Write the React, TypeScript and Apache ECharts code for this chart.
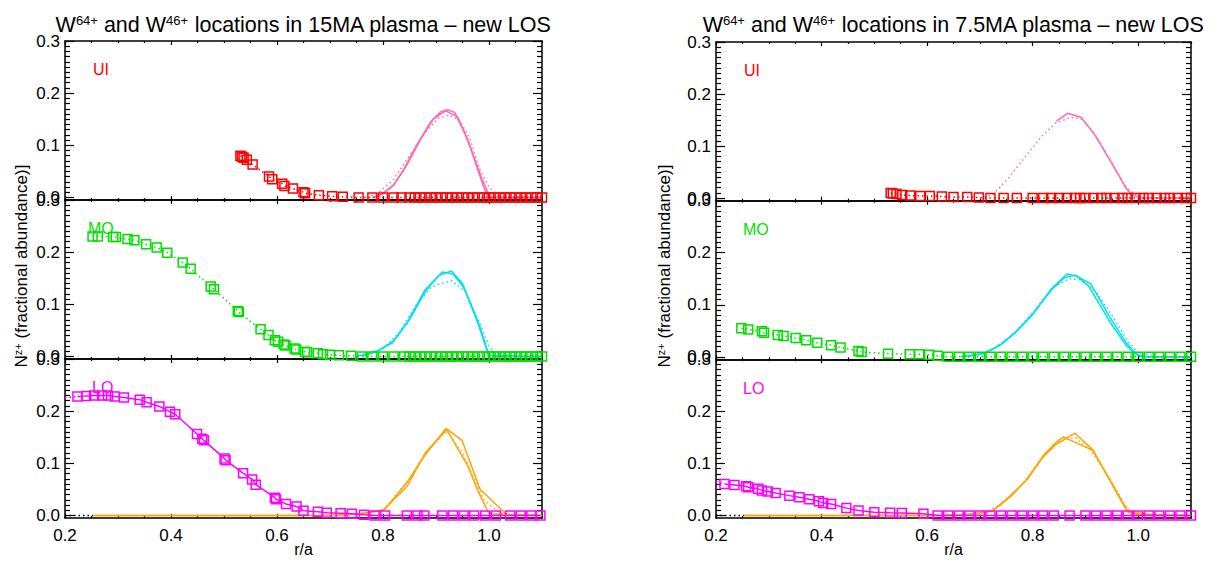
import React, { useEffect, useRef } from "react";
import * as echarts from "echarts";

type P = [number, number][];

// ---------- data (r/a, fractional abundance) ----------
// 15MA plasma
const ui15Squares: P = [[0.531,0.080],[0.534,0.078],[0.537,0.076],[0.543,0.072],[0.554,0.063],[0.585,0.040],[0.591,0.035],[0.610,0.026],[0.614,0.022],[0.630,0.017],[0.650,0.010],[0.653,0.008],[0.679,0.004],[0.704,0.002],[0.724,0.001],[0.754,0],[0.78,0],[0.80,0],[0.82,0],[0.835,0],[0.85,0],[0.86,0],[0.87,0],[0.88,0],[0.89,0],[0.90,0],[0.91,0],[0.92,0],[0.93,0],[0.94,0],[0.95,0],[0.96,0],[0.97,0],[0.98,0],[0.99,0],[1.0,0],[1.01,0],[1.02,0],[1.03,0],[1.04,0],[1.05,0],[1.06,0],[1.07,0],[1.08,0],[1.09,0],[1.10,0]];
const ui15SolidA: P = [[0.78,0],[0.80,0.008],[0.82,0.024],[0.84,0.055],[0.865,0.103],[0.89,0.145],[0.91,0.165],[0.922,0.168],[0.935,0.163],[0.952,0.129],[0.965,0.095],[0.979,0.052],[0.99,0.02],[0.996,0.006],[1.0,0],[1.1,0]];
const ui15SolidB: P = [[0.785,0],[0.80,0.007],[0.82,0.023],[0.845,0.062],[0.87,0.11],[0.895,0.15],[0.918,0.166],[0.94,0.155],[0.96,0.11],[0.985,0.04],[1.002,0],[1.1,0]];
const ui15Dotted: P = [[0.77,0],[0.79,0.008],[0.818,0.032],[0.85,0.08],[0.88,0.125],[0.905,0.152],[0.925,0.158],[0.945,0.148],[0.965,0.11],[0.982,0.055],[1.0,0.02],[1.02,0],[1.1,0]];

const mo15Squares: P = [[0.252,0.230],[0.262,0.230],[0.291,0.229],[0.296,0.229],[0.318,0.225],[0.331,0.223],[0.353,0.215],[0.373,0.209],[0.393,0.199],[0.422,0.180],[0.437,0.168],[0.475,0.134],[0.481,0.129],[0.526,0.087],[0.528,0.085],[0.569,0.052],[0.584,0.041],[0.596,0.031],[0.602,0.028],[0.613,0.023],[0.616,0.021],[0.633,0.015],[0.636,0.013],[0.653,0.009],[0.657,0.008],[0.677,0.006],[0.687,0.004],[0.700,0.003],[0.717,0.002],[0.74,0.001],[0.76,0],[0.78,0],[0.80,0],[0.82,0],[0.84,0],[0.85,0],[0.86,0],[0.87,0],[0.88,0],[0.89,0],[0.90,0],[0.91,0],[0.92,0],[0.93,0],[0.94,0],[0.95,0],[0.96,0],[0.97,0],[0.98,0],[0.99,0],[1.0,0],[1.01,0],[1.02,0],[1.03,0],[1.04,0],[1.05,0],[1.06,0],[1.07,0],[1.08,0],[1.09,0],[1.1,0]];
const mo15SolidA: P = [[0.75,0],[0.79,0.011],[0.818,0.026],[0.845,0.064],[0.879,0.127],[0.912,0.162],[0.932,0.158],[0.952,0.133],[0.979,0.064],[0.999,0.003],[1.01,0],[1.1,0]];
const mo15SolidB: P = [[0.76,0],[0.79,0.01],[0.82,0.03],[0.85,0.07],[0.88,0.125],[0.905,0.155],[0.929,0.164],[0.95,0.14],[0.98,0.065],[1.0,0.002],[1.1,0]];
const mo15Dotted: P = [[0.76,0],[0.80,0.015],[0.83,0.045],[0.86,0.095],[0.89,0.132],[0.91,0.14],[0.93,0.145],[0.955,0.125],[0.98,0.07],[1.0,0.02],[1.02,0],[1.1,0]];

const lo15Squares: P = [[0.2235,0.228],[0.240,0.229],[0.255,0.230],[0.270,0.230],[0.281,0.230],[0.294,0.228],[0.311,0.226],[0.341,0.222],[0.354,0.217],[0.378,0.209],[0.398,0.199],[0.408,0.194],[0.449,0.156],[0.459,0.147],[0.462,0.144],[0.501,0.109],[0.503,0.106],[0.536,0.081],[0.553,0.069],[0.560,0.059],[0.596,0.034],[0.598,0.031],[0.617,0.022],[0.637,0.017],[0.650,0.009],[0.677,0.007],[0.694,0.005],[0.720,0.004],[0.741,0.003],[0.764,0.001],[0.784,0],[0.804,0],[0.845,0],[0.865,0],[0.878,0],[0.912,0],[0.932,0],[0.952,0],[0.972,0],[0.993,0],[1.013,0],[1.040,0],[1.060,0],[1.080,0],[1.097,0]];
const lo15Lead: P = [[0.2,0.226],[0.2235,0.228]];
const lo15OrangeA: P = [[0.253,0],[0.70,0],[0.751,0.002],[0.804,0.012],[0.845,0.063],[0.878,0.114],[0.919,0.167],[0.949,0.144],[0.983,0.050],[1.033,0.002],[1.1,0]];
const lo15OrangeB: P = [[0.253,0],[0.70,0],[0.76,0.003],[0.80,0.01],[0.845,0.055],[0.88,0.12],[0.92,0.165],[0.96,0.095],[0.98,0.045],[1.0,0.003],[1.1,0]];
const lo15OrangeDotted: P = [[0.75,0],[0.80,0.01],[0.85,0.07],[0.88,0.12],[0.92,0.162],[0.95,0.12],[0.97,0.075],[0.99,0.03],[1.02,0.005],[1.05,0],[1.1,0]];
const zeroLead: P = [[0.2,0],[0.253,0]];

// 7.5MA plasma
const ui75Squares: P = [[0.531,0.010],[0.535,0.009],[0.542,0.008],[0.553,0.006],[0.568,0.005],[0.587,0.004],[0.605,0.004],[0.628,0.003],[0.65,0.002],[0.676,0.002],[0.698,0.001],[0.72,0],[0.745,0],[0.77,0],[0.80,0],[0.82,0],[0.835,0],[0.85,0],[0.865,0],[0.88,0],[0.89,0],[0.90,0],[0.915,0],[0.93,0],[0.94,0],[0.955,0],[0.97,0],[0.98,0],[0.995,0],[1.01,0],[1.02,0],[1.035,0],[1.05,0],[1.06,0],[1.075,0],[1.09,0],[1.1,0]];
const ui75Solid: P = [[0.845,0.148],[0.866,0.163],[0.892,0.155],[0.918,0.121],[0.948,0.070],[0.977,0.019],[0.988,0.006],[1.007,0],[1.1,0]];
const ui75Dotted: P = [[0.70,0],[0.724,0.006],[0.754,0.038],[0.784,0.077],[0.814,0.115],[0.843,0.144],[0.873,0.155],[0.895,0.151],[0.918,0.122],[0.948,0.072],[0.977,0.02],[1.0,0.003],[1.02,0],[1.1,0]];

const mo75Squares: P = [[0.248,0.055],[0.261,0.0525],[0.287,0.049],[0.291,0.046],[0.317,0.042],[0.328,0.040],[0.351,0.036],[0.371,0.032],[0.392,0.027],[0.418,0.022],[0.436,0.018],[0.470,0.011],[0.476,0.009],[0.526,0.006],[0.567,0.005],[0.585,0.005],[0.604,0.004],[0.62,0.002],[0.64,0],[0.66,0],[0.68,0],[0.70,0],[0.72,0],[0.74,0],[0.76,0],[0.78,0],[0.80,0],[0.82,0],[0.84,0],[0.86,0],[0.88,0],[0.90,0],[0.92,0],[0.94,0],[0.96,0],[0.98,0],[1.0,0],[1.02,0],[1.04,0],[1.06,0],[1.08,0],[1.1,0]];
const mo75SolidA: P = [[0.664,0],[0.705,0.006],[0.738,0.022],[0.768,0.047],[0.798,0.079],[0.835,0.130],[0.865,0.159],[0.884,0.155],[0.906,0.136],[0.947,0.066],[0.977,0.022],[0.999,0.003],[1.01,0],[1.1,0]];
const mo75SolidB: P = [[0.67,0],[0.71,0.007],[0.74,0.024],[0.77,0.05],[0.80,0.082],[0.835,0.128],[0.86,0.152],[0.88,0.157],[0.91,0.14],[0.945,0.078],[0.975,0.03],[0.995,0.006],[1.01,0],[1.1,0]];
const mo75Dotted: P = [[0.68,0],[0.72,0.012],[0.76,0.04],[0.80,0.085],[0.84,0.135],[0.87,0.150],[0.89,0.148],[0.92,0.125],[0.95,0.08],[0.98,0.03],[1.0,0.008],[1.03,0],[1.1,0]];

const lo75Squares: P = [[0.216,0.0605],[0.235,0.0586],[0.257,0.056],[0.261,0.054],[0.280,0.051],[0.287,0.048],[0.298,0.046],[0.313,0.043],[0.339,0.038],[0.358,0.035],[0.377,0.031],[0.395,0.027],[0.403,0.024],[0.418,0.022],[0.447,0.014],[0.470,0.0096],[0.500,0.006],[0.530,0.005],[0.552,0.0045],[0.593,0.003],[0.62,0],[0.64,0],[0.66,0],[0.68,0],[0.70,0],[0.72,0],[0.74,0],[0.76,0],[0.78,0],[0.80,0],[0.82,0],[0.84,0],[0.87,0],[0.90,0],[0.92,0],[0.94,0],[0.96,0],[0.98,0],[1.0,0],[1.02,0],[1.04,0],[1.06,0],[1.08,0],[1.1,0]];
const lo75Lead: P = [[0.2,0.065],[0.216,0.0605]];
const lo75OrangeA: P = [[0.253,0],[0.62,0],[0.68,0.002],[0.723,0.008],[0.76,0.038],[0.79,0.070],[0.82,0.115],[0.842,0.138],[0.858,0.151],[0.914,0.125],[0.98,0.008],[1.036,0],[1.1,0]];
const lo75OrangeB: P = [[0.253,0],[0.65,0],[0.70,0.004],[0.725,0.009],[0.76,0.04],[0.79,0.07],[0.82,0.113],[0.842,0.135],[0.88,0.158],[0.914,0.126],[0.98,0.006],[1.0,0.002],[1.1,0]];
const lo75OrangeDotted: P = [[0.70,0.003],[0.74,0.02],[0.78,0.06],[0.82,0.112],[0.85,0.142],[0.88,0.15],[0.91,0.125],[0.95,0.065],[0.98,0.012],[1.02,0],[1.1,0]];

// ticks
const xMajor = [0.2, 0.4, 0.6, 0.8, 1.0];
const xMinor = [0.25, 0.3, 0.35, 0.45, 0.5, 0.55, 0.65, 0.7, 0.75, 0.85, 0.9, 0.95, 1.05, 1.1];
const yMajor = [0, 0.1, 0.2, 0.3];
const yMinor = Array.from({ length: 30 }, (_, i) => i / 100).filter((v) => Math.round(v * 100) % 10 !== 0);

const panelNames = ["UI", "MO", "LO"];
const titles = ["15MA", "7.5MA"];

const C = {
  red: "#ff0000",
  pink: "#ff69b4",
  green: "#00e000",
  cyan: "#00e0f0",
  magenta: "#ff00ff",
  orange: "#ffa500",
};
const FONT = "'Liberation Sans', Arial, Helvetica, sans-serif";

export default function App() {
  const ref = useRef<HTMLDivElement>(null);
  useEffect(() => {
    if (!ref.current) return;
    const chart = echarts.init(ref.current, undefined, { renderer: "svg" });

    const cols = [
      { left: 65, width: 477, tops: [41, 200, 359], h: 159 },
      { left: 716, width: 475, tops: [42, 200.7, 359.3], h: 158.7 },
    ];
    const grids: any[] = [];
    cols.forEach((c) => c.tops.forEach((t) => grids.push({ left: c.left, top: t, width: c.width, height: c.h })));

    const xAxes: any[] = [];
    const yAxes: any[] = [];
    const black = "#000";
    grids.forEach((_, g) => {
      const bottomPanel = g % 3 === 2;
      const xb = { type: "value", gridIndex: g, min: 0.2, max: 1.1, splitLine: { show: false } };
      xAxes.push({
        ...xb, position: "bottom",
        axisLine: { show: true, onZero: false, lineStyle: { color: black, width: 1.5 } },
        axisTick: { show: true, inside: true, length: 4, customValues: xMajor, lineStyle: { color: black, width: 1.2 } },
        axisLabel: { show: bottomPanel, customValues: xMajor, formatter: (v: number) => v.toFixed(1), fontSize: 17, color: black, margin: 9, fontFamily: FONT },
      });
      xAxes.push({
        ...xb, position: "bottom", axisLine: { show: false, onZero: false },
        axisTick: { show: true, inside: true, length: 2, customValues: xMinor, lineStyle: { color: black, width: 1.2 } },
        axisLabel: { show: false },
      });
      xAxes.push({
        ...xb, position: "top",
        axisLine: { show: true, onZero: false, lineStyle: { color: black, width: 1.5 } },
        axisTick: { show: true, inside: true, length: 4, customValues: xMajor, lineStyle: { color: black, width: 1.2 } },
        axisLabel: { show: false },
      });
      xAxes.push({
        ...xb, position: "top", axisLine: { show: false, onZero: false },
        axisTick: { show: true, inside: true, length: 2, customValues: xMinor, lineStyle: { color: black, width: 1.2 } },
        axisLabel: { show: false },
      });
      const yb = { type: "value", gridIndex: g, min: -0.005, max: 0.3, splitLine: { show: false } };
      yAxes.push({
        ...yb, position: "left",
        axisLine: { show: true, onZero: false, lineStyle: { color: black, width: 1.5 } },
        axisTick: { show: true, inside: true, length: 9, customValues: yMajor, lineStyle: { color: black, width: 1.2 } },
        axisLabel: { show: true, customValues: yMajor, formatter: (v: number) => v.toFixed(1), fontSize: 17, color: black, margin: 5, fontFamily: FONT },
      });
      yAxes.push({
        ...yb, position: "left", axisLine: { show: false, onZero: false },
        axisTick: { show: true, inside: true, length: 5, customValues: yMinor, lineStyle: { color: black, width: 1.2 } },
        axisLabel: { show: false },
      });
      yAxes.push({
        ...yb, position: "right",
        axisLine: { show: true, onZero: false, lineStyle: { color: black, width: 1.5 } },
        axisTick: { show: true, inside: true, length: 9, customValues: yMajor, lineStyle: { color: black, width: 1.2 } },
        axisLabel: { show: false },
      });
      yAxes.push({
        ...yb, position: "right", axisLine: { show: false, onZero: false },
        axisTick: { show: true, inside: true, length: 5, customValues: yMinor, lineStyle: { color: black, width: 1.2 } },
        axisLabel: { show: false },
      });
    });

    const series: any[] = [];
    const line = (g: number, data: P, color: string, dotted = false, width = 1.5) =>
      series.push({
        type: "line", xAxisIndex: 4 * g, yAxisIndex: 4 * g, data, symbol: "none", silent: true,
        lineStyle: { color, width, type: dotted ? [1.5, 3] : "solid" },
      });
    const squares = (g: number, data: P, color: string, solid: boolean) =>
      series.push({
        type: "line", xAxisIndex: 4 * g, yAxisIndex: 4 * g, data, symbol: "rect", symbolSize: 9, showSymbol: true, silent: true,
        itemStyle: { color: "rgba(0,0,0,0)", borderColor: color, borderWidth: 1.5 },
        lineStyle: { color, width: 1.5, type: solid ? "solid" : [1.5, 3] },
      });

    // 15MA
    line(0, ui15Dotted, C.pink, true);
    line(0, ui15SolidA, C.pink);
    line(0, ui15SolidB, C.pink);
    squares(0, ui15Squares, C.red, false);

    line(1, mo15Dotted, C.cyan, true);
    line(1, mo15SolidA, C.cyan);
    line(1, mo15SolidB, C.cyan);
    squares(1, mo15Squares, C.green, false);

    line(2, zeroLead, "#000", true);
    line(2, lo15OrangeDotted, C.orange, true);
    line(2, lo15OrangeA, C.orange);
    line(2, lo15OrangeB, C.orange);
    line(2, lo15Lead, C.magenta, true);
    squares(2, lo15Squares, C.magenta, true);

    // 7.5MA
    line(3, ui75Dotted, C.pink, true);
    line(3, ui75Solid, C.pink);
    squares(3, ui75Squares, C.red, false);

    line(4, mo75Dotted, C.cyan, true);
    line(4, mo75SolidA, C.cyan);
    line(4, mo75SolidB, C.cyan);
    squares(4, mo75Squares, C.green, false);

    line(5, zeroLead, "#000", true);
    line(5, lo75OrangeDotted, C.orange, true);
    line(5, lo75OrangeA, C.orange);
    line(5, lo75OrangeB, C.orange);
    line(5, lo75Lead, C.magenta, true);
    squares(5, lo75Squares, C.magenta, true);

    const rich = {
      sup: { fontSize: 13, fontFamily: FONT, verticalAlign: "top", lineHeight: 13, padding: [0, 0, 8, 0], fill: "#000" },
    };
    const graphic: any[] = [];
    const centers = [303.5, 953.5];
    titles.forEach((t, i) => {
      graphic.push({
        type: "text", x: centers[i], y: 25,
        style: {
          text: `W{sup|64+} and W{sup|46+} locations in ${t} plasma \u2013 new LOS`,
          fontSize: 21.5, fontFamily: FONT, fill: "#000", align: "center", verticalAlign: "middle", rich,
        },
      });
      graphic.push({
        type: "text", x: centers[i], y: 549,
        style: { text: "r/a", fontSize: 16, fontFamily: FONT, fill: "#000", align: "center", verticalAlign: "middle" },
      });
    });
    const yTitleX = [21, 664];
    yTitleX.forEach((x) => {
      graphic.push({
        type: "text", x, y: 266, rotation: Math.PI / 2,
        style: {
          text: "N{sup|z+} (fractional abundance)]",
          fontSize: 17, fontFamily: FONT, fill: "#000", align: "center", verticalAlign: "middle",
          rich: { sup: { fontSize: 11, fontFamily: FONT, verticalAlign: "top", lineHeight: 11, padding: [0, 0, 7, 0], fill: "#000" } },
        },
      });
    });
    const labelColors = [C.red, C.green, C.magenta];
    const labelPos = [
      [[93, 69], [88, 228], [92, 387]],
      [[744, 70], [743, 229], [743, 388]],
    ];
    labelPos.forEach((col) =>
      col.forEach((p, k) =>
        graphic.push({
          type: "text", x: p[0], y: p[1],
          style: { text: panelNames[k], fontSize: 16, fontFamily: FONT, fill: labelColors[k], align: "left", verticalAlign: "middle" },
        })
      )
    );

    chart.setOption({
      animation: false,
      backgroundColor: "#fff",
      textStyle: { fontFamily: FONT },
      grid: grids,
      xAxis: xAxes,
      yAxis: yAxes,
      series,
      graphic,
    });
    return () => chart.dispose();
  }, []);
  return <div ref={ref} style={{ position: "fixed", left: 0, top: 0, width: 1215, height: 561 }} />;
}
